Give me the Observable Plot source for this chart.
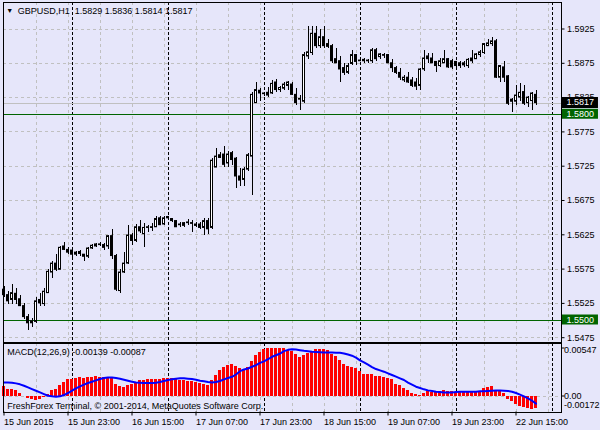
<!DOCTYPE html>
<html>
<head>
<meta charset="utf-8">
<script src="https://cdn.jsdelivr.net/npm/d3@7"></script>
<script src="https://cdn.jsdelivr.net/npm/@observablehq/plot@0.6"></script>
<style>
html,body{margin:0;padding:0;background:#E6E6FA;}
#chart{position:relative;width:600px;height:430px;background:#E6E6FA;overflow:hidden;}
#chart svg{position:absolute;left:0;}
</style>
</head>
<body>
<div id="chart"></div>
<script>
// ---------- data ----------
const symbolTitle = "GBPUSD,H1";
const lastOHLC = [1.5829, 1.5836, 1.5814, 1.5817];
const macdName = "MACD(12,26,9)";
const macdLast = [-0.00139, -0.00087];
const copyright = "FreshForex Terminal, \u00a9 2001-2014, MetaQuotes Software Corp.";

const openP = [
1.5545,1.5537,1.5530,1.5539,1.5531,1.5521,1.5505,1.5496,1.5498,1.5530,
1.5524,1.5540,1.5570,1.5583,1.5574,1.5608,1.5603,1.5602,1.5596,1.5600,
1.5596,1.5593,1.5605,1.5608,1.5610,1.5610,1.5608,1.5623,1.5594,1.5543,
1.5570,1.5583,1.5624,1.5616,1.5636,1.5626,1.5635,1.5636,1.5636,1.5649,
1.5640,1.5649,1.5648,1.5645,1.5640,1.5638,1.5642,1.5642,1.5640,1.5640,
1.5635,1.5645,1.5635,1.5723,1.5737,1.5742,1.5729,1.5744,1.5736,1.5710,
1.5705,1.5720,1.5739,1.5817,1.5835,1.5831,1.5832,1.5831,1.5847,1.5836,
1.5838,1.5842,1.5844,1.5829,1.5822,1.5819,1.5885,1.5890,1.5918,1.5900,
1.5913,1.5903,1.5900,1.5881,1.5878,1.5868,1.5861,1.5874,1.5887,1.5878,
1.5880,1.5878,1.5878,1.5894,1.5884,1.5887,1.5887,1.5875,1.5868,1.5861,
1.5850,1.5854,1.5850,1.5847,1.5842,1.5866,1.5885,1.5882,1.5877,1.5871,
1.5875,1.5881,1.5878,1.5877,1.5875,1.5872,1.5871,1.5882,1.5881,1.5887,
1.5890,1.5900,1.5903,1.5907,1.5854,1.5869,1.5856,1.5822,1.5819,1.5825,
1.5833,1.5817,1.5820,1.5829];
const highP = [
1.5549,1.5543,1.5552,1.5546,1.5537,1.5525,1.5509,1.5503,1.5533,1.5540,
1.5546,1.5575,1.5586,1.5596,1.5608,1.5614,1.5606,1.5605,1.5600,1.5602,
1.5597,1.5606,1.5611,1.5613,1.5614,1.5613,1.5624,1.5632,1.5597,1.5575,
1.5599,1.5639,1.5627,1.5640,1.5646,1.5642,1.5639,1.5642,1.5652,1.5652,
1.5652,1.5652,1.5649,1.5646,1.5643,1.5643,1.5648,1.5646,1.5643,1.5643,
1.5649,1.5649,1.5736,1.5751,1.5745,1.5753,1.5747,1.5747,1.5737,1.5721,
1.5723,1.5744,1.5832,1.5847,1.5838,1.5833,1.5839,1.5850,1.5851,1.5841,
1.5847,1.5848,1.5847,1.5838,1.5828,1.5891,1.5929,1.5929,1.5929,1.5925,
1.5929,1.5910,1.5903,1.5897,1.5885,1.5874,1.5875,1.5894,1.5888,1.5881,
1.5882,1.5881,1.5896,1.5896,1.5890,1.5890,1.5888,1.5880,1.5871,1.5868,
1.5857,1.5862,1.5854,1.5853,1.5868,1.5894,1.5890,1.5890,1.5878,1.5882,
1.5893,1.5882,1.5881,1.5878,1.5878,1.5877,1.5882,1.5893,1.5890,1.5894,
1.5904,1.5909,1.5912,1.5909,1.5872,1.5878,1.5857,1.5823,1.5842,1.5845,
1.5842,1.5826,1.5833,1.5836];
const lowP = [
1.5533,1.5523,1.5523,1.5523,1.5520,1.5502,1.5486,1.5490,1.5496,1.5521,
1.5521,1.5540,1.5562,1.5572,1.5574,1.5602,1.5597,1.5591,1.5594,1.5593,
1.5586,1.5591,1.5603,1.5606,1.5608,1.5602,1.5603,1.5589,1.5543,1.5540,
1.5568,1.5581,1.5609,1.5614,1.5627,1.5606,1.5629,1.5630,1.5635,1.5638,
1.5639,1.5646,1.5643,1.5635,1.5636,1.5636,1.5638,1.5629,1.5636,1.5633,
1.5624,1.5626,1.5633,1.5723,1.5736,1.5723,1.5723,1.5726,1.5692,1.5696,
1.5696,1.5717,1.5682,1.5816,1.5820,1.5826,1.5825,1.5829,1.5833,1.5833,
1.5836,1.5836,1.5828,1.5813,1.5806,1.5816,1.5881,1.5887,1.5897,1.5897,
1.5897,1.5897,1.5874,1.5874,1.5847,1.5857,1.5858,1.5872,1.5872,1.5877,
1.5875,1.5875,1.5875,1.5878,1.5881,1.5882,1.5874,1.5862,1.5858,1.5850,
1.5847,1.5845,1.5839,1.5835,1.5836,1.5863,1.5874,1.5874,1.5861,1.5869,
1.5874,1.5868,1.5866,1.5868,1.5868,1.5869,1.5868,1.5875,1.5880,1.5884,
1.5888,1.5899,1.5900,1.5853,1.5847,1.5847,1.5814,1.5804,1.5813,1.5820,
1.5814,1.5810,1.5806,1.5814];
const closeP = [
1.5537,1.5528,1.5540,1.5530,1.5521,1.5505,1.5496,1.5499,1.5528,1.5525,
1.5542,1.5571,1.5583,1.5574,1.5606,1.5603,1.5599,1.5596,1.5599,1.5597,
1.5593,1.5605,1.5609,1.5611,1.5611,1.5606,1.5623,1.5594,1.5545,1.5570,
1.5583,1.5624,1.5616,1.5636,1.5630,1.5635,1.5636,1.5635,1.5648,1.5639,
1.5649,1.5651,1.5645,1.5636,1.5639,1.5642,1.5643,1.5641,1.5638,1.5635,
1.5645,1.5633,1.5733,1.5739,1.5741,1.5727,1.5742,1.5734,1.5710,1.5704,
1.5720,1.5741,1.5829,1.5836,1.5831,1.5830,1.5828,1.5845,1.5836,1.5839,
1.5844,1.5847,1.5829,1.5817,1.5823,1.5887,1.5891,1.5918,1.5900,1.5913,
1.5900,1.5899,1.5878,1.5875,1.5866,1.5861,1.5871,1.5887,1.5877,1.5879,
1.5878,1.5879,1.5894,1.5881,1.5888,1.5886,1.5875,1.5868,1.5861,1.5854,
1.5854,1.5847,1.5842,1.5841,1.5866,1.5882,1.5881,1.5875,1.5871,1.5878,
1.5881,1.5869,1.5869,1.5871,1.5871,1.5875,1.5880,1.5878,1.5888,1.5891,
1.5903,1.5904,1.5907,1.5854,1.5871,1.5854,1.5816,1.5819,1.5828,1.5832,
1.5816,1.5825,1.5831,1.5817];

const macdHist = [
0.00106,0.00079,0.00072,0.00060,0.00034,-0.00008,-0.00023,-0.00038,-0.00046,-0.00035,
-0.00012,0.00022,0.00060,0.00079,0.00117,0.00155,0.00186,0.00193,0.00201,0.00209,
0.00205,0.00209,0.00212,0.00220,0.00216,0.00216,0.00216,0.00201,0.00129,0.00106,
0.00098,0.00117,0.00133,0.00155,0.00171,0.00182,0.00190,0.00193,0.00193,0.00193,
0.00197,0.00201,0.00201,0.00193,0.00182,0.00171,0.00163,0.00163,0.00155,0.00140,
0.00129,0.00117,0.00182,0.00239,0.00292,0.00323,0.00345,0.00359,0.00333,0.00313,
0.00306,0.00321,0.00390,0.00465,0.00496,0.00533,0.00541,0.00547,0.00547,0.00547,
0.00547,0.00522,0.00511,0.00476,0.00439,0.00465,0.00484,0.00511,0.00530,0.00530,
0.00530,0.00515,0.00476,0.00447,0.00408,0.00364,0.00334,0.00326,0.00315,0.00277,
0.00247,0.00247,0.00247,0.00224,0.00224,0.00212,0.00205,0.00186,0.00136,0.00125,
0.00087,0.00068,0.00034,0.00015,0.00011,0.00030,0.00049,0.00041,0.00041,0.00049,
0.00064,0.00049,0.00049,0.00041,0.00041,0.00041,0.00041,0.00041,0.00041,0.00049,
0.00087,0.00098,0.00110,0.00064,0.00049,0.00034,-0.00042,-0.00065,-0.00092,-0.00118,
-0.00130,-0.00141,-0.00149,-0.00139];
const macdSignal = [
0.00155,0.00155,0.00152,0.00144,0.00133,0.00117,0.00098,0.00079,0.00060,0.00041,
0.00022,0.00003,-0.00004,-0.00008,-0.00004,0.00011,0.00034,0.00060,0.00087,0.00110,
0.00129,0.00148,0.00163,0.00178,0.00193,0.00205,0.00212,0.00212,0.00205,0.00197,
0.00186,0.00174,0.00163,0.00155,0.00152,0.00148,0.00148,0.00148,0.00152,0.00159,
0.00171,0.00182,0.00190,0.00197,0.00201,0.00201,0.00197,0.00193,0.00186,0.00174,
0.00167,0.00159,0.00155,0.00159,0.00171,0.00190,0.00205,0.00219,0.00245,0.00283,
0.00302,0.00313,0.00333,0.00351,0.00378,0.00395,0.00419,0.00447,0.00465,0.00484,
0.00511,0.00526,0.00533,0.00530,0.00522,0.00515,0.00511,0.00504,0.00500,0.00498,
0.00496,0.00496,0.00496,0.00494,0.00492,0.00485,0.00472,0.00459,0.00437,0.00406,
0.00383,0.00357,0.00330,0.00307,0.00292,0.00277,0.00258,0.00239,0.00220,0.00201,
0.00182,0.00152,0.00129,0.00106,0.00091,0.00076,0.00064,0.00057,0.00049,0.00045,
0.00041,0.00041,0.00041,0.00045,0.00049,0.00049,0.00049,0.00049,0.00049,0.00053,
0.00053,0.00057,0.00060,0.00064,0.00064,0.00060,0.00057,0.00049,0.00034,0.00015,
-0.00004,-0.00027,-0.00054,-0.00087];

const timeTickIndex = [0, 16, 32, 48, 64, 80, 96, 112, 128];
const timeTickLabels = ["15 Jun 2015","15 Jun 23:00","16 Jun 15:00","17 Jun 07:00","17 Jun 23:00","18 Jun 15:00","19 Jun 07:00","19 Jun 23:00","22 Jun 15:00"];
const daySeparatorIndex = [17, 41, 65, 89, 113, 137];
const priceTicks = [1.5475,1.5525,1.5575,1.5625,1.5675,1.5725,1.5775,1.5825,1.5875,1.5925];
const levelLines = [1.5800, 1.5500];
const bidPrice = 1.5817;
const macdScaleLabels = [0.00547, 0.00, -0.00172];

// ---------- build tables ----------
const bars = openP.map((o, i) => ({i, o, h: highP[i], l: lowP[i], c: closeP[i]}));
const macdRows = macdHist.map((h, i) => ({i, h, s: macdSignal[i]}));
const gridIndex = d3.range(8, 140, 8);

// ---------- layout ----------
const W = 600;
const xDomain = [-0.25, 139.25];
const boxX = [139.62, 148.62];
const font = "'Liberation Sans', Arial, sans-serif";
const gridColor = "#C0C0C0";
const green = "#006400";
const baseStyle = {background: "transparent", fontFamily: font, fontSize: "9px", color: "black", overflow: "visible"};

const main = Plot.plot({
  width: W, height: 342,
  marginTop: 1.5, marginRight: 39.5, marginBottom: 0.5, marginLeft: 2.5,
  style: baseStyle,
  x: {type: "linear", domain: xDomain, axis: null, label: null},
  y: {type: "linear", domain: [1.5468731, 1.5964359], axis: null, label: null},
  marks: [
    Plot.ruleY(priceTicks, {stroke: gridColor, strokeDasharray: "3,3", shapeRendering: "crispEdges"}),
    Plot.ruleX(gridIndex, {stroke: gridColor, strokeDasharray: "3,3", shapeRendering: "crispEdges"}),
    Plot.ruleX(daySeparatorIndex, {stroke: "black", strokeDasharray: "3,2", shapeRendering: "crispEdges"}),
    Plot.ruleY([bidPrice], {stroke: "#C0C0C0", shapeRendering: "crispEdges"}),
    Plot.ruleY(levelLines, {stroke: green, shapeRendering: "crispEdges"}),
    Plot.ruleX(bars, {x: "i", y1: "l", y2: "h", stroke: "black", shapeRendering: "crispEdges"}),
    Plot.rect(bars, {x1: d => d.i - 0.25, x2: d => d.i + 0.25, y1: "o", y2: "c",
      fill: d => d.c >= d.o ? "white" : "black", stroke: "black", strokeWidth: 1}),
    Plot.frame({stroke: "black", shapeRendering: "crispEdges"}),
    Plot.axisY(priceTicks, {anchor: "right", tickSize: 3, tickPadding: 3, label: null, tickFormat: d => d.toFixed(4)}),
    Plot.ruleY([bidPrice], {x1: boxX[0], x2: boxX[1], stroke: "black", strokeWidth: 11, dy: -0.5}),
    Plot.ruleY(levelLines, {x1: boxX[0], x2: boxX[1], stroke: green, strokeWidth: 10, dy: -1}),
    Plot.text([bidPrice, ...levelLines], {y: d => d, text: d => d.toFixed(4), frameAnchor: "right",
      dx: 5.5, dy: -0.5, textAnchor: "start", fill: "white"}),
    Plot.text(["\u25BC"], {frameAnchor: "top-left", dx: 6.8, dy: 9, textAnchor: "middle", lineAnchor: "middle", fontSize: 7}),
    Plot.text([symbolTitle + "\u00a0\u00a0" + lastOHLC.map(v => v.toFixed(4)).join(" ")],
      {frameAnchor: "top-left", dx: 14.8, dy: 6, textAnchor: "start", lineAnchor: "top"})
  ]
});

const macd = Plot.plot({
  width: W, height: 90,
  marginTop: 2.5, marginRight: 39.5, marginBottom: 18.5, marginLeft: 2.5,
  style: baseStyle,
  x: {type: "linear", domain: xDomain, axis: null, label: null},
  y: {type: "linear", domain: [-0.0018233, 0.0060398], axis: null, label: null},
  marks: [
    Plot.ruleY([0], {stroke: gridColor, strokeDasharray: "3,3", shapeRendering: "crispEdges"}),
    Plot.ruleX(gridIndex, {stroke: gridColor, strokeDasharray: "3,3", shapeRendering: "crispEdges"}),
    Plot.ruleX(daySeparatorIndex, {stroke: "black", strokeDasharray: "3,2", shapeRendering: "crispEdges"}),
    Plot.rect(macdRows, {x1: d => d.i - 0.375, x2: d => d.i + 0.375, y1: 0, y2: "h", fill: "#FF0000", shapeRendering: "crispEdges"}),
    Plot.line(macdRows, {x: "i", y: "s", stroke: "#0000FF", strokeWidth: 2}),
    Plot.frame({stroke: "black", shapeRendering: "crispEdges"}),
    Plot.axisY([macdScaleLabels[0], macdScaleLabels[1]], {anchor: "right", tickSize: 3, label: null, tickFormat: () => ""}),
    Plot.text([macdScaleLabels[0]], {y: d => d, text: d => d.toFixed(5), frameAnchor: "right", dx: 3, dy: 2, textAnchor: "start"}),
    Plot.text([macdScaleLabels[1]], {y: d => d, text: d => d.toFixed(2), frameAnchor: "right", dx: 3, textAnchor: "start"}),
    Plot.text([macdScaleLabels[2]], {y: d => d, text: d => d.toFixed(5), frameAnchor: "right", dx: 3, dy: -5.5, textAnchor: "start"}),
    Plot.axisX(timeTickIndex, {anchor: "bottom", tickSize: 4, tickPadding: 3, textAnchor: "start", label: null,
      tickFormat: d => timeTickLabels[timeTickIndex.indexOf(d)]}),
    Plot.text([macdName + " " + macdLast.map(v => v.toFixed(5)).join(" ")],
      {frameAnchor: "top-left", dx: 4.2, dy: 6, textAnchor: "start", lineAnchor: "top"}),
    Plot.text([copyright], {frameAnchor: "top-left", dx: 4.2, dy: 59.2, textAnchor: "start", lineAnchor: "top"})
  ]
});

const chart = document.getElementById("chart");
main.style.top = "0px";
macd.style.top = "340px";
chart.appendChild(main);
chart.appendChild(macd);
</script>
</body>
</html>
